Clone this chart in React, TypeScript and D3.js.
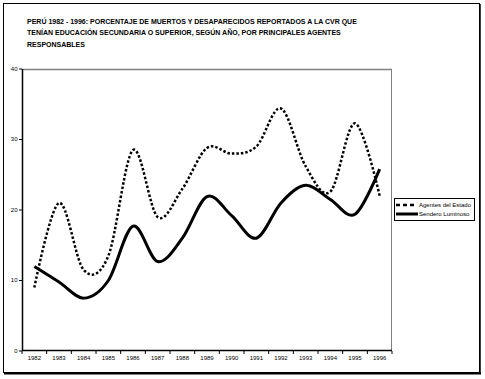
import React from "react";
import * as d3 from "d3";

const years = ["1982","1983","1984","1985","1986","1987","1988","1989","1990","1991","1992","1993","1994","1995","1996"];
const agentesEstado = [9, 21, 11.5, 13.5, 28.5, 19, 23, 28.8, 28, 29, 34.4, 26.2, 22.6, 32.3, 22];
const senderoLuminoso = [12, 9.8, 7.5, 10, 17.7, 12.7, 16, 21.9, 19.2, 16, 21, 23.5, 21.5, 19.4, 25.8];
const yTicks = [0, 10, 20, 30, 40];
const titleLines = [
  "PERÚ 1982 - 1996: PORCENTAJE DE MUERTOS Y DESAPARECIDOS REPORTADOS A LA CVR QUE",
  "TENÍAN EDUCACIÓN SECUNDARIA O SUPERIOR, SEGÚN AÑO, POR PRINCIPALES AGENTES",
  "RESPONSABLES",
];
const seriesNames = ["Agentes del Estado", "Sendero Luminoso"];

const W = 485, H = 379;
const L = 22, R = 392, T = 69, B = 351;
const font = "Liberation Sans, Arial, sans-serif";

export default function App() {
  const x = d3.scaleBand<string>().domain(years).range([L, R]);
  const y = d3.scaleLinear().domain([0, 40]).range([B, T]);
  const line = d3
    .line<number>()
    .x((_, i) => (x(years[i]) as number) + x.bandwidth() / 2)
    .y((d) => y(d))
    .curve(d3.curveCatmullRom.alpha(0));
  const boundaries = years.map((yr) => x(yr) as number).concat([R]);

  return (
    <svg width={W} height={H} style={{ position: "absolute", left: 0, top: 0, display: "block" }} fontFamily={font}>
      <rect x={0} y={0} width={W} height={H} fill="#fff" />
      {/* outer frame */}
      <rect x={3.5} y={3.5} width={476} height={369} fill="none" stroke="#000" strokeWidth={1} />
      <line x1={480} y1={4} x2={480} y2={374} stroke="#000" strokeWidth={1.5} />
      <line x1={4} y1={373.5} x2={481} y2={373.5} stroke="#000" strokeWidth={2} />

      {/* title */}
      {titleLines.map((t, i) => (
        <text key={i} x={27} y={23.5 + i * 11.5} fontSize={7} fontWeight="bold" fill="#000">
          {t}
        </text>
      ))}

      {/* plot border (top/right gray) */}
      <line x1={L} y1={T + 0.5} x2={R} y2={T + 0.5} stroke="#808080" strokeWidth={1.5} />
      <line x1={R - 0.5} y1={T} x2={R - 0.5} y2={B} stroke="#808080" strokeWidth={1} />

      {/* y axis */}
      <line x1={L + 0.5} y1={T} x2={L + 0.5} y2={B} stroke="#000" strokeWidth={1.5} />
      {yTicks.map((v) => (
        <g key={v}>
          <line x1={L - 3} y1={y(v)} x2={L} y2={y(v)} stroke="#000" strokeWidth={1} />
          <text x={L - 4.5} y={y(v)} dy="0.32em" textAnchor="end" fontSize={6} fill="#000">
            {v}
          </text>
        </g>
      ))}

      {/* x axis */}
      <line x1={L} y1={B - 0.5} x2={R} y2={B - 0.5} stroke="#000" strokeWidth={1.5} />
      {boundaries.map((bx, i) => (
        <line key={i} x1={bx} y1={B} x2={bx} y2={B + 3} stroke="#000" strokeWidth={1} />
      ))}
      {years.map((yr) => (
        <text key={yr} x={(x(yr) as number) + x.bandwidth() / 2} y={B + 9} textAnchor="middle" fontSize={6} fill="#000">
          {yr}
        </text>
      ))}

      {/* series */}
      <path d={line(agentesEstado) || ""} fill="none" stroke="#000" strokeWidth={2.5} strokeDasharray="2.5,2" />
      <path d={line(senderoLuminoso) || ""} fill="none" stroke="#000" strokeWidth={3} strokeLinejoin="round" />

      {/* legend */}
      <rect x={394.5} y={198.5} width={80} height={22} fill="#fff" stroke="#000" strokeWidth={1} />
      <line x1={396} y1={205} x2={417} y2={205} stroke="#000" strokeWidth={2.5} strokeDasharray="4,3" />
      <text x={419} y={205} dy="0.35em" fontSize={6} fill="#000">{seriesNames[0]}</text>
      <line x1={396} y1={214} x2={418} y2={214} stroke="#000" strokeWidth={3} />
      <text x={419} y={214} dy="0.35em" fontSize={6} fill="#000">{seriesNames[1]}</text>
    </svg>
  );
}
